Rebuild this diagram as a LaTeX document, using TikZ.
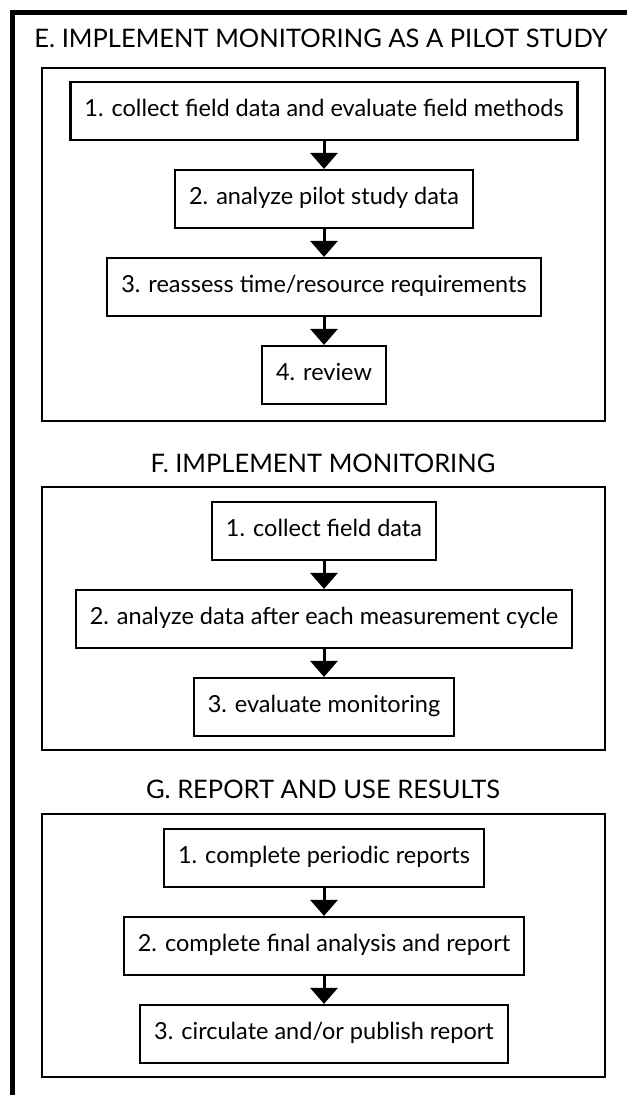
\documentclass[tikz,border=0pt]{standalone}
\usepackage{fontspec}
\setmainfont{Lato}
\usetikzlibrary{arrows.meta}

\begin{document}
\begin{tikzpicture}[x=1pt,y=-1pt,
    stepbox/.style={draw,line width=2.2pt,minimum height=58pt,inner xsep=14pt,
      text height=16pt,text depth=5pt,font=\fontsize{23.5}{27}\selectfont},
    grouptitle/.style={font=\fontsize{25.5}{30}\selectfont},
    groupbox/.style={line width=2.2pt},
    flow/.style={line width=3pt,-{Triangle[width=27pt,length=16pt]}}]
          \useasboundingbox (0,0) rectangle (627,1095);
          \draw[line width=5pt] (12,1095) |- (627,12);
          % E: pilot study
          \node[grouptitle] (Etitle) at (321,38) {E. IMPLEMENT MONITORING AS A PILOT STUDY};
          \draw[groupbox] (42,68) rectangle (605,421);
          \node[stepbox] (E1) at (324,111) {1. collect field data and evaluate field methods};
          \node[stepbox] (E2) at (324,199) {2. analyze pilot study data};
          \node[stepbox] (E3) at (324,287) {3. reassess time/resource requirements};
          \node[stepbox] (E4) at (324,375) {4. review};
          \draw[flow] (E1) -- (E2);
          \draw[flow] (E2) -- (E3);
          \draw[flow] (E3) -- (E4);
          % F: monitoring
          \node[grouptitle] (Ftitle) at (323,463) {F. IMPLEMENT MONITORING};
          \draw[groupbox] (42,487) rectangle (605,750);
          \node[stepbox] (F1) at (324,531) {1. collect field data};
          \node[stepbox] (F2) at (324,619) {2. analyze data after each measurement cycle};
          \node[stepbox] (F3) at (324,707) {3. evaluate monitoring};
          \draw[flow] (F1) -- (F2);
          \draw[flow] (F2) -- (F3);
          % G: results
          \node[grouptitle] (Gtitle) at (323,789) {G. REPORT AND USE RESULTS};
          \draw[groupbox] (42,814) rectangle (605,1077);
          \node[stepbox] (G1) at (324,858) {1. complete periodic reports};
          \node[stepbox] (G2) at (324,946) {2. complete final analysis and report};
          \node[stepbox] (G3) at (324,1034) {3. circulate and/or publish report};
          \draw[flow] (G1) -- (G2);
          \draw[flow] (G2) -- (G3);
        \end{tikzpicture}
\end{document}
